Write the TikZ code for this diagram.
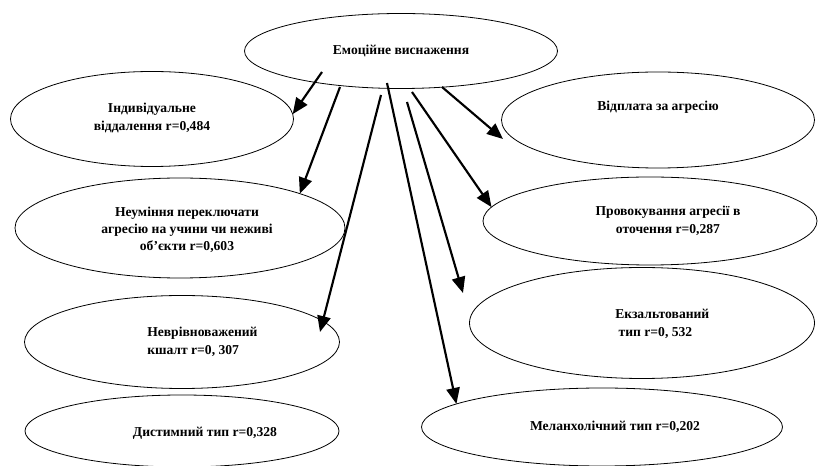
\documentclass[tikz,border=0pt]{standalone}
\usepackage{fontspec}
\setmainfont{Liberation Serif}
\usetikzlibrary{arrows.meta, shapes.geometric, calc}

\begin{document}
\begin{tikzpicture}[
  x=0.75pt, y=-0.75pt,
  oval/.style={ellipse, draw, line width=0.6pt, inner sep=0pt, outer sep=0pt},
  txt/.style={font=\fontsize{10.2}{13}\selectfont\bfseries, align=center, inner sep=0pt},
  arr/.style={-{Triangle[length=12pt, width=10pt]}, line width=1.6pt}
]
\useasboundingbox (0,0) rectangle (818,466);
% ellipses
\node[oval, minimum width=234.75pt, minimum height=56.25pt] (emo) at (401,51) {};
\node[oval, minimum width=212.25pt, minimum height=71.25pt] (ind) at (152,119) {};
\node[oval, minimum width=247.5pt, minimum height=75pt] (neum) at (180,228) {};
\node[oval, minimum width=236.25pt, minimum height=69.75pt] (nevr) at (182,342) {};
\node[oval, minimum width=235.5pt, minimum height=54pt] (dyst) at (182,431) {};
\node[oval, minimum width=234.75pt, minimum height=72pt] (vidp) at (658,120) {};
\node[oval, minimum width=250.5pt, minimum height=66pt] (prov) at (650,221) {};
\node[oval, minimum width=258.75pt, minimum height=83.25pt] (ekz) at (642,323) {};
\node[oval, minimum width=270.75pt, minimum height=58.5pt] (mel) at (602,427) {};
% texts
\node[txt] (emo-t) at (emo.center) {Емоційне виснаження};
\node[txt] (ind-t) at ([shift={(0,-1)}]ind.center) {Індивідуальне\\віддалення r=0,484};
\node[txt] (neum-t) at ([shift={(7,2)}]neum.center) {Неуміння переключати\\агресію на учини чи неживі\\об’єкти r=0,603};
\node[txt, align=left, anchor=west] (nevr-t) at ([shift={(-35,0)}]nevr.center) {Неврівноважений\\кшалт r=0, 307};
\node[txt] (dyst-t) at ([shift={(23,2)}]dyst.center) {Дистимний тип r=0,328};
\node[txt] (vidp-t) at ([shift={(0,-13)}]vidp.center) {Відплата за агресію};
\node[txt] (prov-t) at ([shift={(18,0)}]prov.center) {Провокування агресії в\\оточення r=0,287};
\node[txt, align=left, anchor=west] (ekz-t) at ([shift={(-27,1)}]ekz.center) {Екзальтований\\\ тип r=0, 532};
\node[txt] (mel-t) at ([shift={(13,0)}]mel.center) {Меланхолічний тип r=0,202};
% arrow ends
\coordinate (s1) at (322,72);
\coordinate (s2) at (340,87);
\coordinate (s3) at (381,95);
\coordinate (s4) at (387,83);
\coordinate (s5) at (407,102);
\coordinate (s6) at (412,92);
\coordinate (s7) at (442,87);
\coordinate (t3) at (320,332);
\coordinate (t5) at (463,293);
\coordinate (t7) at (503,139);
\draw[arr] (s1) -- (ind.2);
\draw[arr] (s2) -- (neum.16);
\draw[arr] (s3) -- (t3);
\draw[arr] (s4) -- (mel.171);
\draw[arr] (s5) -- (t5);
\draw[arr] (s6) -- (prov.175);
\draw[arr] (s7) -- (t7);
\end{tikzpicture}
\end{document}
